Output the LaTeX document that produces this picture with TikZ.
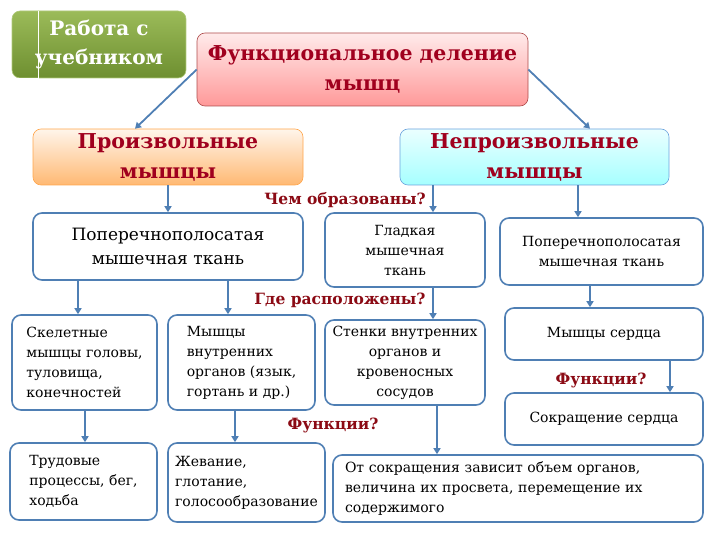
\documentclass[tikz,border=0pt]{standalone}
\usepackage{fontspec}
\setmainfont{DejaVu Serif}
\usepackage{xcolor}
\usetikzlibrary{arrows.meta}
\definecolor{boxblue}{HTML}{4F7FB4}
\definecolor{headred}{HTML}{A0001E}
\definecolor{askred}{HTML}{8B0A14}
\definecolor{greentop}{HTML}{9BBB59}
\definecolor{greenbot}{HTML}{6E8F30}
\begin{document}
\begin{tikzpicture}[x=1pt, y=-1pt,
  box/.style={draw=boxblue, line width=1.6pt, rounded corners=9pt, fill=white, inner sep=4pt,
    align=center, font=\fontsize{14}{20}\selectfont},
  lbox/.style={box, align=left},
  head/.style={rounded corners=8pt, line width=0.6pt, align=center, text=headred,
    font=\fontsize{20.5}{30}\selectfont\bfseries},
  ask/.style={text=askred, font=\fontsize{15.5}{17}\selectfont\bfseries, inner sep=1pt},
  arr/.style={draw=boxblue, line width=1.8pt, -{Triangle[width=7pt,length=6pt]}}]
\useasboundingbox (0,0) rectangle (720,540);
\node[head, minimum width=174pt, minimum height=67pt, draw=greentop!80!white, top color=greentop, bottom color=greenbot, text=white,
  font=\fontsize{20}{29}\selectfont\bfseries] (work) at (99,44.5) {Работа с\\учебником};
\draw[white, line width=0.8pt] (38,11) -- (38,78) -- (13,78);
\node[head, minimum width=331pt, minimum height=73pt, draw=red!55!black!70, top color=red!8, bottom color=red!40] (func) at (362.5,69.5) {Функциональное деление\\мышц};
\node[head, minimum width=270pt, minimum height=56pt, draw=orange!70, top color=orange!8, bottom color=orange!55] (vol) at (168,157) {Произвольные\\мышцы};
\node[head, minimum width=269pt, minimum height=56pt, draw=cyan!60!blue!60, top color=cyan!8, bottom color=cyan!35] (invol) at (534.5,157) {Непроизвольные\\мышцы};
\node[box, minimum width=270pt, minimum height=67pt, font=\fontsize{17}{24}\selectfont] (strL) at (168,246.5) {Поперечнополосатая\\мышечная ткань};
\node[box, minimum width=160pt, minimum height=74pt] (smooth) at (405,250) {Гладкая\\мышечная\\ткань};
\node[box, minimum width=203pt, minimum height=67pt] (strR) at (601.5,251.5) {Поперечнополосатая\\мышечная ткань};
\node[lbox, minimum width=145pt, minimum height=95pt] (skel) at (84.5,362.5) {Скелетные\\мышцы головы,\\туловища,\\конечностей};
\node[lbox, minimum width=147pt, minimum height=95pt] (intm) at (241.5,362.5) {Мышцы\\внутренних\\органов (язык,\\гортань и др.)};
\node[box, minimum width=160pt, minimum height=85pt] (walls) at (405,362.5) {Стенки внутренних\\органов и\\кровеносных\\сосудов};
\node[box, minimum width=198pt, minimum height=52pt] (heart) at (604,334) {Мышцы сердца};
\node[box, minimum width=198pt, minimum height=52pt] (contr) at (604,419) {Сокращение сердца};
\node[lbox, minimum width=147pt, minimum height=77pt] (labor) at (83.5,481.5) {Трудовые\\процессы, бег,\\ходьба};
\node[lbox, minimum width=157pt, minimum height=79pt] (chew) at (246.5,482.5) {Жевание,\\глотание,\\голосообразование};
\node[lbox, minimum width=370pt, minimum height=67pt, text width=346pt, inner xsep=12pt] (effect) at (518,488.5) {От сокращения зависит объем органов,\\величина их просвета, перемещение их\\содержимого};
\node[ask] (q1) at (345,200) {Чем образованы?};
\node[ask] (q2) at (340,300) {Где расположены?};
\node[ask] (q3) at (601,380) {Функции?};
\node[ask] (q4) at (333,425) {Функции?};
\draw[arr] (func.west) -- ([xshift=-33pt]vol.north);
\draw[arr] (func.east) -- ([xshift=55.5pt]invol.north);
\draw[arr] (vol.south) -- (strL.north);
\draw[arr] ([xshift=28pt]smooth.north |- invol.south) -- ([xshift=28pt]smooth.north);
\draw[arr] ([xshift=-23.5pt]strR.north |- invol.south) -- ([xshift=-23.5pt]strR.north);
\draw[arr] ([xshift=-6.5pt]skel.north |- strL.south) -- ([xshift=-6.5pt]skel.north);
\draw[arr] ([xshift=-13.5pt]intm.north |- strL.south) -- ([xshift=-13.5pt]intm.north);
\draw[arr] ([xshift=28pt]smooth.south) -- ([xshift=28pt]walls.north);
\draw[arr] ([xshift=-14pt]heart.north |- strR.south) -- ([xshift=-14pt]heart.north);
\draw[arr] ([xshift=66pt]heart.south) -- ([xshift=66pt]contr.north);
\draw[arr] ([xshift=0.5pt]skel.south) -- ([xshift=0.5pt]skel.south |- labor.north);
\draw[arr] ([xshift=-6.5pt]intm.south) -- ([xshift=-6.5pt]intm.south |- chew.north);
\draw[arr] ([xshift=32pt]walls.south) -- ([xshift=32pt]walls.south |- effect.north);
\end{tikzpicture}
\end{document}
